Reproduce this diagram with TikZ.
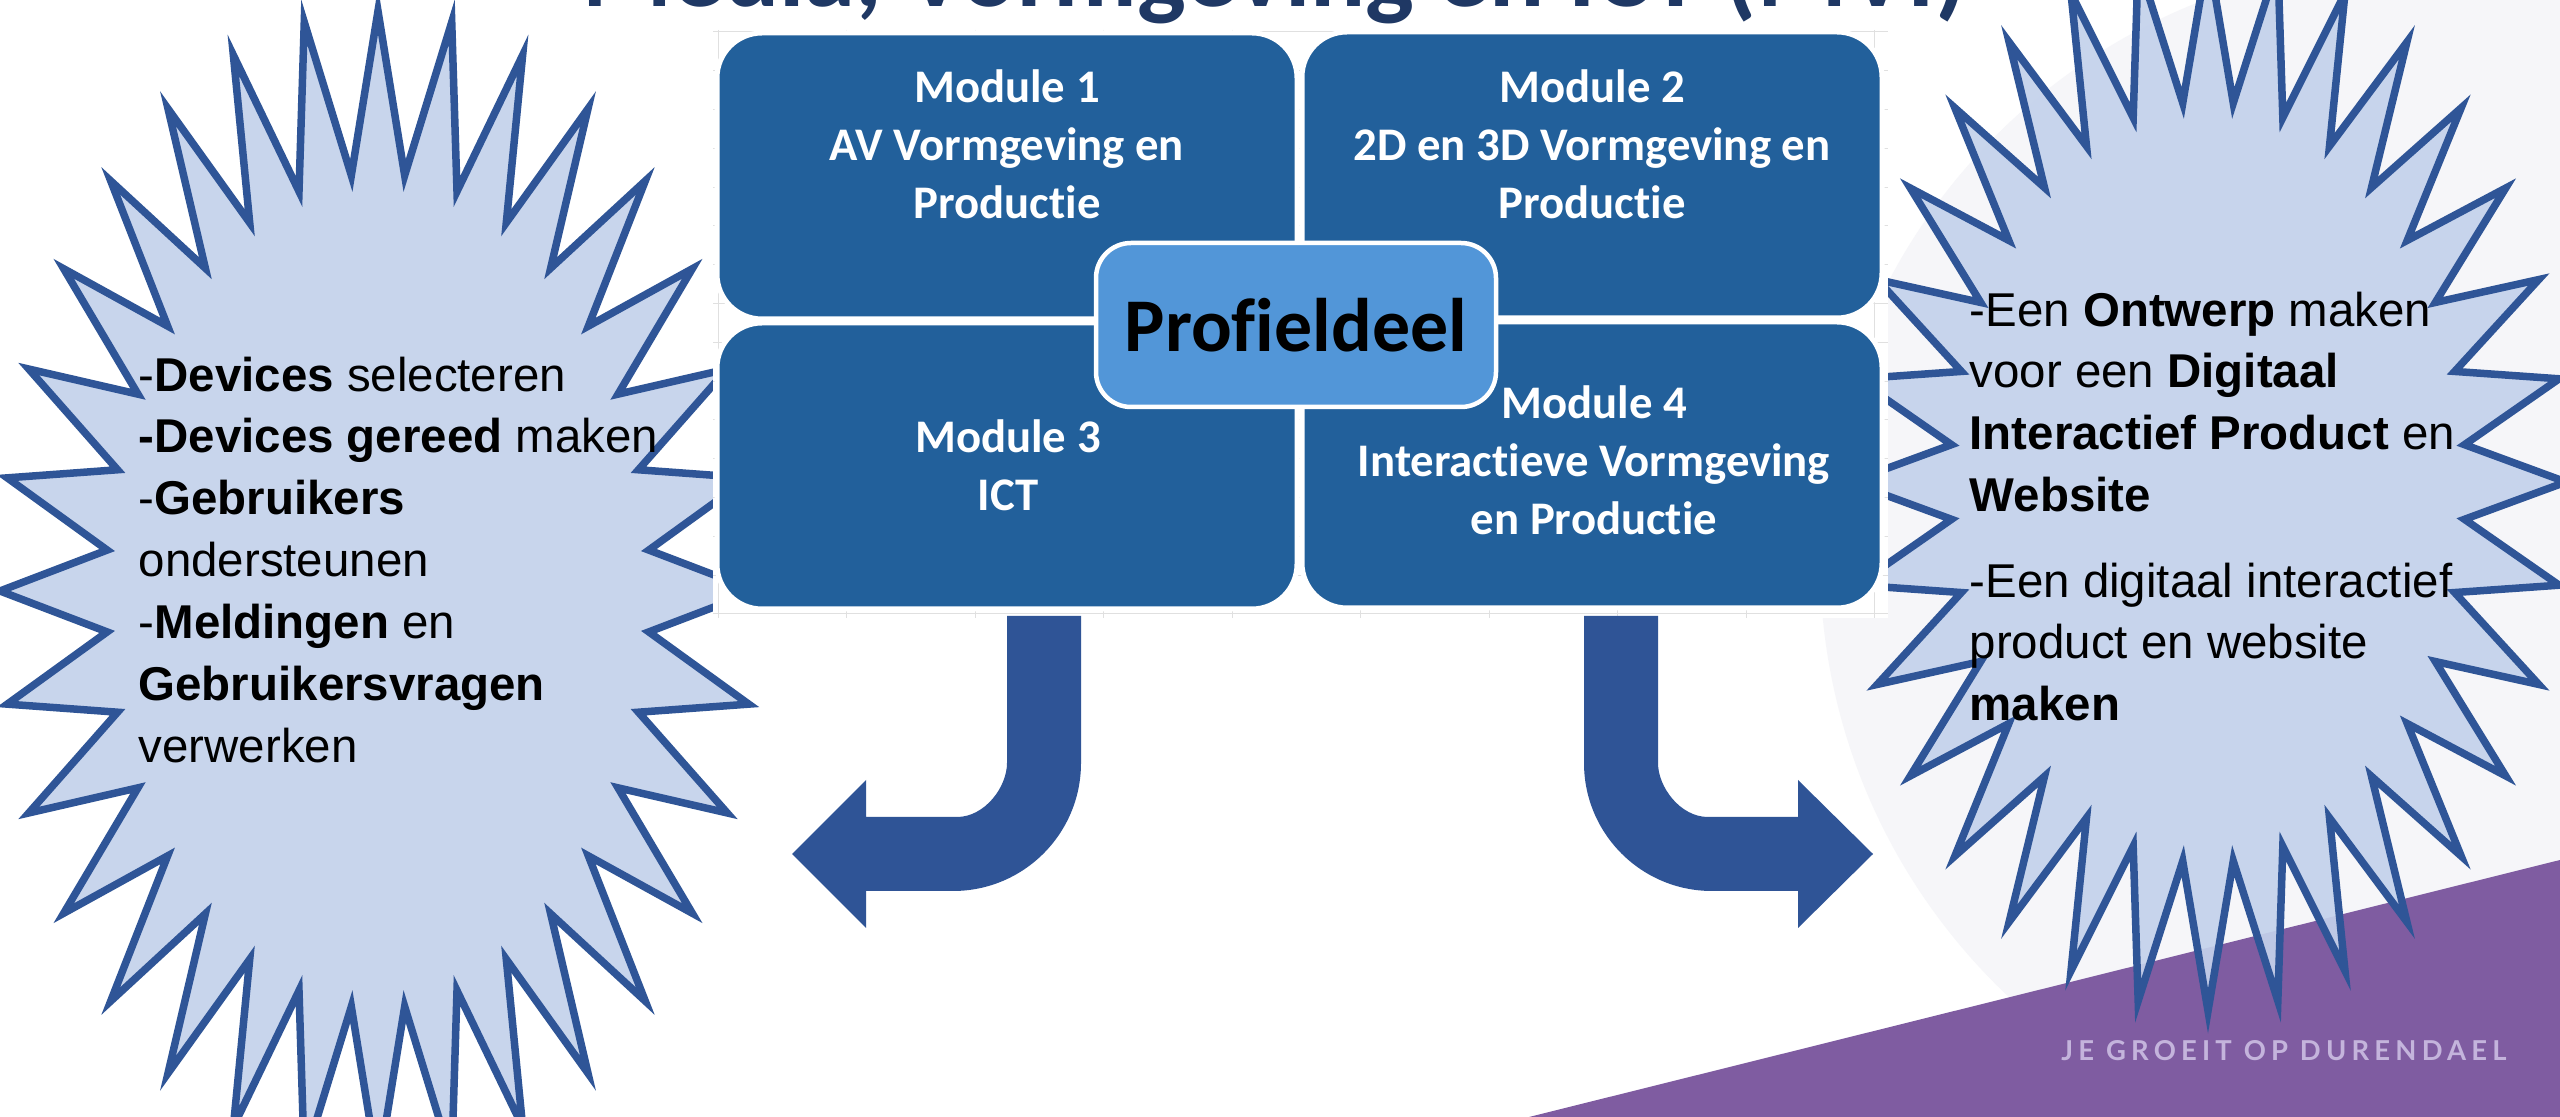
\documentclass[tikz,border=0pt]{standalone}
\usepackage{fontspec}
\usepackage{xcolor}
\usepackage{tikz}
\usetikzlibrary{
  calc,
  positioning
}
\newfontfamily\arialfont{Liberation Sans}
\newfontfamily\modfont[Ligatures=NoCommon]{Carlito}
\newfontfamily\tagfont[LetterSpace=19]{Lato}
\definecolor{modblue}{RGB}{34,96,155}
\definecolor{hubblue}{RGB}{82,150,216}
\definecolor{sealfill}{RGB}{196,210,235}
\definecolor{sealline}{RGB}{47,85,151}
\definecolor{arrowblue}{RGB}{47,84,150}
\definecolor{titlenavy}{RGB}{31,56,100}
\definecolor{durpurple}{RGB}{127,92,161}
\definecolor{tagtext}{RGB}{196,180,220}
\definecolor{watermark}{RGB}{246,246,249}

\begin{document}
\begin{tikzpicture}[
  x=0.1mm, y=-0.1mm,
  module/.style={fill=modblue, draw=white, line width=0.5mm,
                 rounded corners=4.5mm, minimum width=58mm, minimum height=28.6mm},
  modtext/.style={text=white, align=center, inner sep=0pt,
                  font=\modfont\bfseries\fontsize{13.3}{16.5}\selectfont},
  hub/.style={fill=hubblue, draw=white, line width=0.45mm, rounded corners=3.5mm,
              minimum width=40mm, minimum height=16.4mm,
              font=\modfont\bfseries\fontsize{21.6}{24}\selectfont},
  seal/.style={fill=sealfill, fill opacity=0.92, draw=sealline, line width=0.75mm,
               line join=miter, miter limit=25},
  startext/.style={anchor=north west, inner sep=0pt, align=left,
                   font=\arialfont\fontsize{13.5}{17.6}\selectfont},
  gridline/.style={draw=black!12, line width=0.1mm},
  bentarrow/.style={fill=arrowblue}
]
\useasboundingbox (0,0) rectangle (2560,1117);
\clip (0,0) rectangle (2560,1117);
\fill[white] (0,0) rectangle (2560,1117);

% ── Background: watermark and purple band ──
\fill[watermark] (2420,560) circle [radius=600];
\fill[durpurple] (1529,1117) -- (2560,860) -- (2560,1117) -- cycle;
\node[font=\tagfont\bfseries\fontsize{7.8}{9}\selectfont, text=tagtext, anchor=base]
  (tagline) at (2284,1060) {JE GROEIT OP DURENDAEL};

% ── Stars ──
\draw[seal] plot[variable=\k, samples at={0,...,63}]
  ({378-378*(1-0.28*mod(\k,2))*cos(\k*5.625)}, {591-580*(1-0.28*mod(\k,2))*sin(\k*5.625)}) -- cycle;
\draw[seal] plot[variable=\k, samples at={0,...,63}]
  ({2208-358*(1-0.28*mod(\k,2))*cos(\k*5.625)}, {482-529*(1-0.28*mod(\k,2))*sin(\k*5.625)}) -- cycle;

\node[startext] (lefttxt) at (138,356)
  {-\textbf{Devices} selecteren\\
   \textbf{-Devices gereed} maken\\
   -\textbf{Gebruikers}\\
   ondersteunen\\
   -\textbf{Meldingen} en\\
   \textbf{Gebruikersvragen}\\
   verwerken};
\node[startext] (righttxt) at (1969,291)
  {-Een \textbf{Ontwerp} maken\\
   voor een \textbf{Digitaal}\\
   \textbf{Interactief Product} en\\
   \textbf{Website}\\[2.35mm]
   -Een digitaal interactief\\
   product en website\\
   \textbf{maken}};

% ── Title ──
\node[anchor=base, inner sep=0pt, text=titlenavy,
      font=\modfont\bfseries\fontsize{29.3}{32}\selectfont]
  (title) at (1275,7) {Media, Vormgeving en ICT (MVI)};

% ── Module sheet with grid ──
\fill[white] (713,30) rectangle (1888,618);
\foreach \gy in {0,...,15}
  \draw[gridline] (713,{32+38.8*\gy}) -- (1888,{32+38.8*\gy});
\foreach \gx in {0,...,9}
  \draw[gridline] ({718+128.5*\gx},30) -- ({718+128.5*\gx},618);

\node[module] (m1) at (1007,176) {};
\node[module] (m2) at (1592,175) {};
\node[module] (m3) at (1007,466) {};
\node[module] (m4) at (1592,465) {};

\node[modtext] (m1text) at (1007,144) {Module 1\\AV Vormgeving en\\Productie};
\node[modtext] (m2text) at (1592,144) {Module 2\\2D en 3D Vormgeving en\\Productie};
\node[modtext] (m3text) at (1008,465) {Module 3\\ICT};
\node[modtext] (m4text) at (1594,460) {Module 4\\Interactieve Vormgeving\\en Productie};

\node[hub] (hub) at (1296,325) {Profieldeel};

% ── Bent arrows ──
\fill[bentarrow] (1007,616) -- (1081,616) -- (1081,763)
  .. controls (1081,833.7) and (1023.7,891) .. (953,891)
  -- (866,891) -- (866,928) -- (792,854) -- (866,780) -- (866,817) -- (957,817)
  .. controls (984.6,817) and (1007,787.2) .. (1007,763) -- cycle;
\fill[bentarrow] (1584,616) -- (1658,616) -- (1658,763)
  .. controls (1658,787.2) and (1680.4,817) .. (1708,817)
  -- (1798,817) -- (1798,780) -- (1873,854) -- (1798,928) -- (1798,891) -- (1712,891)
  .. controls (1641.3,891) and (1584,833.7) .. (1584,763) -- cycle;

\end{tikzpicture}
\end{document}
